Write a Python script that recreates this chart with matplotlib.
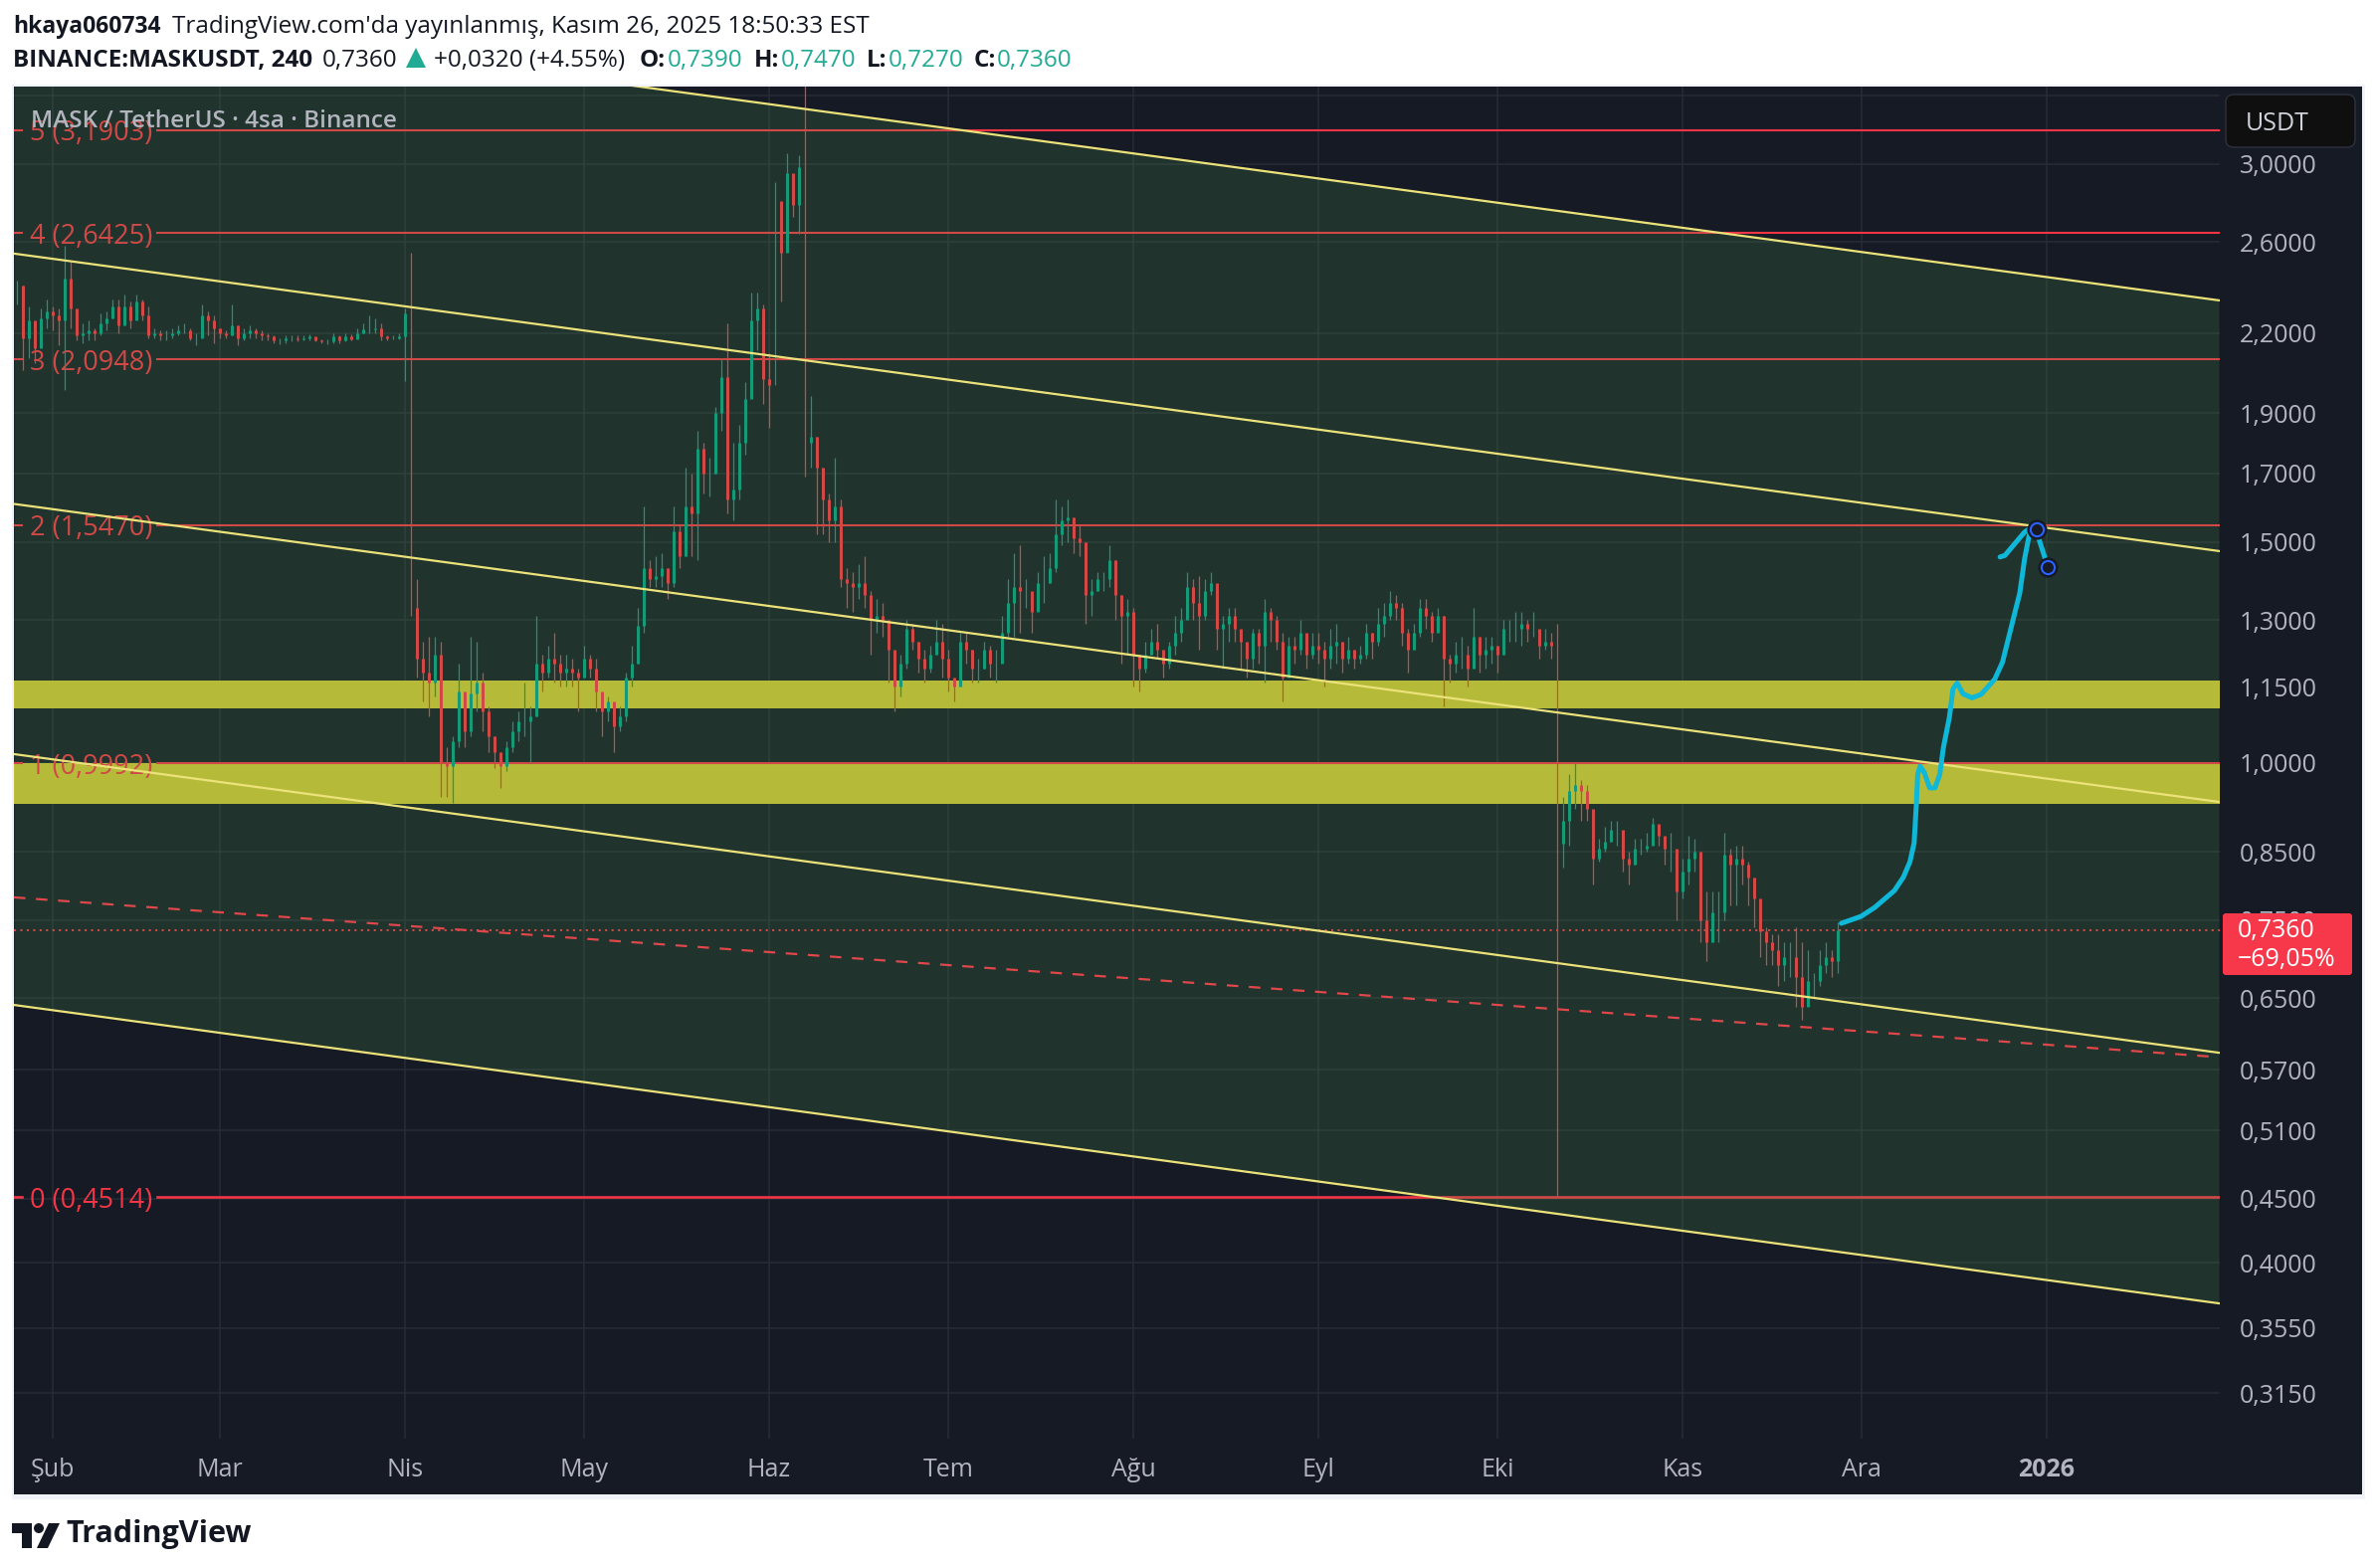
import matplotlib
matplotlib.use('Agg')
import matplotlib.pyplot as plt
from matplotlib.patches import FancyBboxPatch, Polygon, Rectangle, Circle
from matplotlib.ticker import NullLocator, NullFormatter
import numpy as np

plt.rcParams['font.family'] = ['Open Sans', 'DejaVu Sans']

# daily candles, first one is 26 Jan 2025, x is days since 1 Feb 2025
first_day = -6
closes = [
    2.40, 2.18, 2.25, 2.14, 2.26, 2.29,
    # Feb
    2.27, 2.25, 2.43, 2.30, 2.19, 2.20, 2.21, 2.20, 2.24, 2.26, 2.31, 2.23, 2.31, 2.25,
    2.33, 2.27, 2.19, 2.20, 2.19, 2.19, 2.20, 2.21, 2.21, 2.18, 2.18, 2.27, 2.25, 2.22,
    # Mar
    2.20, 2.19, 2.23, 2.18, 2.20, 2.21, 2.20, 2.19, 2.185, 2.17, 2.17, 2.18, 2.18, 2.175, 2.18, 2.185,
    2.17, 2.165, 2.165, 2.185, 2.17, 2.185, 2.175, 2.20, 2.215, 2.215, 2.22, 2.185, 2.18, 2.18, 2.185,
    # Apr
    2.28, 1.33, 1.21, 1.18, 1.16, 1.22, 1.00, 0.995, 1.04, 1.14, 1.06, 1.135, 1.16, 1.10, 1.05,
    1.02, 0.995, 1.03, 1.06, 1.08, 1.08, 1.09, 1.20, 1.18, 1.21, 1.20, 1.18, 1.19, 1.18, 1.17,
    # May
    1.21, 1.19, 1.14, 1.10, 1.12, 1.07, 1.09, 1.17, 1.20, 1.285, 1.43, 1.40, 1.41, 1.43, 1.39, 1.53,
    1.46, 1.60, 1.58, 1.78, 1.70, 1.70, 1.90, 2.03, 1.62, 1.65, 1.80, 1.95, 2.25, 2.30, 2.02,
    # Jun
    2.00, 2.80, 2.55, 2.95, 2.78, 2.98, 1.80, 1.82, 1.72, 1.62, 1.56, 1.60, 1.40, 1.39, 1.38,
    1.39, 1.36, 1.30, 1.31, 1.30, 1.23, 1.15, 1.20, 1.28, 1.25, 1.21, 1.19, 1.22, 1.25, 1.21,
    # Jul
    1.17, 1.15, 1.25, 1.23, 1.19, 1.19, 1.23, 1.20, 1.20, 1.27, 1.34, 1.38, 1.37, 1.37, 1.32, 1.39,
    1.39, 1.43, 1.52, 1.56, 1.57, 1.51, 1.50, 1.36, 1.37, 1.40, 1.40, 1.45, 1.36, 1.31, 1.32,
    # Aug
    1.22, 1.19, 1.22, 1.25, 1.23, 1.20, 1.24, 1.27, 1.30, 1.38, 1.34, 1.31, 1.37, 1.39, 1.28, 1.29,
    1.31, 1.28, 1.25, 1.21, 1.27, 1.24, 1.32, 1.30, 1.25, 1.17, 1.24, 1.23, 1.27, 1.22, 1.24,
    # Sep
    1.23, 1.21, 1.24, 1.25, 1.21, 1.23, 1.21, 1.22, 1.27, 1.25, 1.29, 1.31, 1.34, 1.33, 1.27,
    1.23, 1.27, 1.33, 1.31, 1.27, 1.31, 1.21, 1.20, 1.22, 1.22, 1.19, 1.26, 1.22, 1.23, 1.24,
    # Oct
    1.22, 1.28, 1.28, 1.28, 1.29, 1.28, 1.28, 1.24, 1.25, 1.24, 0.862, 0.90, 0.95, 0.96, 0.95, 0.92,
    0.84, 0.855, 0.865, 0.885, 0.885, 0.84, 0.83, 0.855, 0.855, 0.86, 0.895, 0.875, 0.855, 0.855, 0.79,
    # Nov
    0.82, 0.84, 0.85, 0.75, 0.72, 0.76, 0.76, 0.845, 0.83, 0.84, 0.83, 0.81, 0.78, 0.735,
    0.72, 0.71, 0.69, 0.70, 0.70, 0.675, 0.64, 0.67, 0.67, 0.69, 0.70, 0.695, 0.736,
]
highs = [
    2.42, 2.40, 2.31, 2.22, 2.30, 2.34,
    2.31, 2.30, 2.58, 2.51, 2.24, 2.24, 2.25, 2.22, 2.28, 2.29, 2.34, 2.34, 2.36, 2.33,
    2.36, 2.34, 2.31, 2.22, 2.21, 2.21, 2.22, 2.23, 2.24, 2.22, 2.20, 2.32, 2.29, 2.27,
    2.22, 2.21, 2.32, 2.23, 2.22, 2.23, 2.22, 2.21, 2.20, 2.19, 2.18, 2.19, 2.19, 2.19, 2.19, 2.195,
    2.18, 2.175, 2.175, 2.20, 2.19, 2.20, 2.195, 2.22, 2.24, 2.27, 2.26, 2.24, 2.19, 2.19, 2.20,
    2.30, 2.55, 1.40, 1.25, 1.26, 1.26, 1.25, 1.03, 1.05, 1.20, 1.13, 1.26, 1.25, 1.18, 1.11,
    1.05, 1.02, 1.04, 1.08, 1.10, 1.16, 1.11, 1.31, 1.22, 1.24, 1.27, 1.22, 1.22, 1.21, 1.19,
    1.24, 1.22, 1.21, 1.13, 1.13, 1.10, 1.11, 1.18, 1.24, 1.33, 1.60, 1.45, 1.46, 1.47, 1.43, 1.60,
    1.55, 1.72, 1.70, 1.84, 1.80, 1.75, 1.92, 2.10, 2.24, 1.80, 1.86, 2.01, 2.37, 2.37, 2.32,
    2.12, 2.90, 2.72, 3.06, 2.92, 3.05, 3.46, 1.96, 1.82, 1.72, 1.64, 1.75, 1.62, 1.43, 1.42,
    1.44, 1.46, 1.37, 1.35, 1.34, 1.29, 1.20, 1.22, 1.30, 1.29, 1.25, 1.23, 1.24, 1.30, 1.29,
    1.23, 1.17, 1.27, 1.27, 1.23, 1.21, 1.25, 1.24, 1.23, 1.31, 1.40, 1.47, 1.49, 1.40, 1.35, 1.42,
    1.46, 1.47, 1.62, 1.60, 1.62, 1.57, 1.55, 1.50, 1.40, 1.42, 1.42, 1.49, 1.45, 1.36, 1.35,
    1.33, 1.22, 1.25, 1.28, 1.29, 1.23, 1.25, 1.31, 1.33, 1.42, 1.40, 1.41, 1.40, 1.42, 1.38, 1.31,
    1.33, 1.33, 1.27, 1.24, 1.28, 1.28, 1.35, 1.33, 1.31, 1.27, 1.26, 1.26, 1.30, 1.26, 1.27,
    1.27, 1.25, 1.28, 1.29, 1.25, 1.26, 1.23, 1.24, 1.29, 1.27, 1.33, 1.34, 1.37, 1.36, 1.34,
    1.28, 1.29, 1.35, 1.35, 1.32, 1.33, 1.31, 1.22, 1.25, 1.26, 1.24, 1.33, 1.26, 1.26, 1.26,
    1.24, 1.30, 1.30, 1.32, 1.32, 1.30, 1.32, 1.27, 1.28, 1.27, 1.29, 0.94, 0.98, 1.00, 0.97, 0.96,
    0.91, 0.87, 0.89, 0.90, 0.90, 0.88, 0.85, 0.87, 0.87, 0.88, 0.905, 0.89, 0.87, 0.88, 0.85,
    0.84, 0.875, 0.87, 0.85, 0.79, 0.79, 0.79, 0.88, 0.855, 0.86, 0.86, 0.835, 0.81, 0.76,
    0.74, 0.73, 0.73, 0.72, 0.72, 0.74, 0.72, 0.71, 0.68, 0.71, 0.72, 0.71, 0.747,
]
lows = [
    2.32, 2.055, 2.10, 2.08, 2.16, 2.22,
    2.21, 2.15, 1.98, 2.22, 2.17, 2.16, 2.17, 2.17, 2.19, 2.21, 2.26, 2.20, 2.23, 2.22,
    2.26, 2.25, 2.18, 2.18, 2.17, 2.17, 2.18, 2.19, 2.20, 2.17, 2.15, 2.19, 2.19, 2.16,
    2.18, 2.18, 2.19, 2.15, 2.17, 2.18, 2.18, 2.17, 2.17, 2.16, 2.155, 2.16, 2.165, 2.165, 2.17, 2.17,
    2.165, 2.16, 2.155, 2.16, 2.16, 2.165, 2.17, 2.185, 2.20, 2.20, 2.20, 2.17, 2.17, 2.175, 2.175,
    2.015, 1.31, 1.17, 1.12, 1.09, 1.13, 0.94, 0.94, 0.93, 1.03, 1.03, 1.05, 1.10, 1.06, 1.02,
    0.99, 0.955, 0.985, 1.02, 1.04, 1.05, 1.00, 1.09, 1.14, 1.17, 1.16, 1.15, 1.15, 1.15, 1.10,
    1.17, 1.17, 1.10, 1.05, 1.08, 1.02, 1.06, 1.08, 1.15, 1.20, 1.27, 1.38, 1.38, 1.38, 1.35, 1.38,
    1.43, 1.46, 1.46, 1.45, 1.64, 1.63, 1.70, 1.84, 1.58, 1.56, 1.62, 1.76, 1.98, 2.13, 1.93,
    1.85, 2.00, 2.33, 2.62, 2.72, 2.64, 1.69, 1.72, 1.52, 1.52, 1.50, 1.50, 1.38, 1.33, 1.32,
    1.35, 1.33, 1.22, 1.27, 1.26, 1.16, 1.10, 1.13, 1.19, 1.23, 1.18, 1.16, 1.18, 1.22, 1.17,
    1.14, 1.12, 1.16, 1.20, 1.16, 1.16, 1.19, 1.17, 1.16, 1.21, 1.26, 1.26, 1.27, 1.33, 1.27, 1.34,
    1.34, 1.39, 1.42, 1.49, 1.50, 1.47, 1.46, 1.29, 1.31, 1.37, 1.37, 1.38, 1.30, 1.20, 1.22,
    1.15, 1.14, 1.18, 1.22, 1.21, 1.17, 1.19, 1.22, 1.25, 1.31, 1.30, 1.23, 1.30, 1.36, 1.23, 1.19,
    1.25, 1.25, 1.19, 1.17, 1.19, 1.20, 1.16, 1.25, 1.23, 1.12, 1.18, 1.20, 1.22, 1.19, 1.21,
    1.20, 1.15, 1.19, 1.20, 1.18, 1.20, 1.19, 1.20, 1.21, 1.21, 1.24, 1.26, 1.30, 1.30, 1.24,
    1.18, 1.23, 1.26, 1.28, 1.25, 1.28, 1.11, 1.16, 1.18, 1.19, 1.15, 1.20, 1.18, 1.19, 1.20,
    1.18, 1.22, 1.25, 1.25, 1.24, 1.25, 1.26, 1.21, 1.23, 1.21, 0.4514, 0.825, 0.86, 0.92, 0.90, 0.90,
    0.80, 0.835, 0.85, 0.865, 0.86, 0.82, 0.80, 0.83, 0.845, 0.85, 0.87, 0.86, 0.83, 0.82, 0.75,
    0.78, 0.80, 0.82, 0.72, 0.695, 0.72, 0.72, 0.75, 0.77, 0.77, 0.80, 0.77, 0.74, 0.70,
    0.69, 0.69, 0.665, 0.67, 0.675, 0.64, 0.625, 0.645, 0.65, 0.665, 0.68, 0.675, 0.68,
]

# fib levels and labels
fib_prices = [0.4514, 0.9992, 1.547, 2.0948, 2.6425, 3.1903]
fib_labels = ['0 (0,4514)', '1 (0,9992)', '2 (1,5470)', '3 (2,0948)', '4 (2,6425)', '5 (3,1903)']

# channel lines, price at the left and right edge of the pane
channel_left = [4.036, 2.5445, 1.608, 1.0165, 0.6418]
channel_right = [2.3355, 1.475, 0.9313, 0.588, 0.3714]
dashed_prices = [0.7817, 0.5832]
line_days = [-6.5, 362.83]

# yellow zones (low, high)
zone_lows = [1.1055, 0.928]
zone_highs = [1.1633, 0.9992]

last_price = 0.736

# hand drawn path
brush_days = [299.6, 302.9, 305.2, 308.5, 310.0, 311.1, 311.8, 312.2, 312.4, 312.8, 313.5, 314.4, 315.3, 316.1,
              316.7, 317.7, 318.3, 319.0, 320.0, 321.5, 323.0, 325.3, 326.6, 327.8, 329.5, 330.3, 331.1]
brush_prices = [0.7454, 0.7549, 0.7674, 0.7915, 0.8112, 0.8344, 0.8638, 0.9323, 0.9793, 0.9944, 0.9829, 0.9555,
                0.9555, 0.9793, 1.0285, 1.087, 1.145, 1.158, 1.135, 1.127, 1.134, 1.166, 1.203, 1.268, 1.366,
                1.454, 1.521]
hook_days = [326.2, 327.0, 328.3, 330.3, 331.4]
hook_prices = [1.459, 1.463, 1.488, 1.527, 1.539]
tail_days = [332.7, 333.7]
tail_prices = [1.508, 1.457]
handle_days = [332.3, 334.1]
handle_prices = [1.536, 1.433]

# axis ticks
month_days = [0, 28, 59, 89, 120, 150, 181, 212, 242, 273, 303, 334]
month_labels = ['Şub', 'Mar', 'Nis', 'May', 'Haz', 'Tem', 'Ağu', 'Eyl', 'Eki', 'Kas', 'Ara', '2026']
price_ticks = [3.4, 3.0, 2.6, 2.2, 1.9, 1.7, 1.5, 1.3, 1.15, 1.0, 0.85, 0.75, 0.65, 0.57, 0.51, 0.45, 0.40, 0.355, 0.315]
price_labels = ['' if p == 3.4 else f'{p:.4f}'.replace('.', ',') for p in price_ticks]

W, H = 2388, 1576
BG = '#161a25'
UP = '#089981'
DOWN = '#f23645'

fig = plt.figure(figsize=(W / 100, H / 100), dpi=100, facecolor='white')
fig.add_artist(Rectangle((12 / W, 1 - 1507 / H), 2365 / W, 1422 / H, transform=fig.transFigure,
                         facecolor='#f0f3fa', edgecolor='none', zorder=-2))
fig.add_artist(Rectangle((14 / W, 1 - 1502 / H), 2360 / W, 1415 / H, transform=fig.transFigure,
                         facecolor=BG, edgecolor='none', zorder=-1))

ax = fig.add_axes([14 / W, 1 - 1446 / H, (2231 - 14) / W, (1446 - 87) / H])
ax.set_facecolor(BG)
ax.set_yscale('log')
ax.set_xlim(-6.5, 363)
ax.set_ylim(0.2898, 3.456)
for s in ax.spines.values():
    s.set_visible(False)

ax.yaxis.tick_right()
ax.yaxis.set_minor_locator(NullLocator())
ax.yaxis.set_minor_formatter(NullFormatter())
ax.set_yticks(price_ticks)
ax.set_yticklabels(price_labels, fontsize=18, color='#b2b5be')
ax.set_xticks(month_days)
ax.set_xticklabels(month_labels, fontsize=18, color='#b2b5be')
ax.get_xticklabels()[-1].set_fontweight('bold')
ax.tick_params(axis='y', length=0, pad=14)
ax.tick_params(axis='x', length=0, pad=14)
ax.grid(True, color='#282c37', lw=1.1, zorder=0)
ax.set_axisbelow(True)

# zones
for lo, hi in zip(zone_lows, zone_highs):
    ax.axhspan(lo, hi, color='#d0c434', lw=0, zorder=1)

# fib lines with a gap for the label, these sit under the channel fill
for p, lab in zip(fib_prices, fib_labels):
    lw = 1.5 if p > 0.5 else 1.9
    ax.plot([-6.5, -5.2], [p, p], color=DOWN, lw=lw, zorder=1.5)
    ax.plot([17.5, 363], [p, p], color=DOWN, lw=lw, zorder=1.5)
    ax.text(6.4, p, lab, color=DOWN, fontsize=19.5, ha='center', va='center_baseline', zorder=1.6)
ax.axhline(last_price, color=DOWN, lw=1.5, ls=(0, (1, 2.1)), zorder=1.7)

# candles, the few huge ones are only a hairline in the reference
closes = np.array(closes)
highs = np.array(highs)
lows = np.array(lows)
opens = np.r_[closes[0], closes[:-1]]
days = first_day + np.arange(len(closes))
cols = np.where(closes >= opens, UP, DOWN)
ax.vlines(days, lows, highs, colors=cols, lw=0.9, zorder=2)
normal = np.maximum(opens, closes) / np.minimum(opens, closes) < 1.35
ax.vlines(days[normal], np.minimum(opens, closes)[normal], np.maximum(opens, closes)[normal],
          colors=cols[normal], lw=2.2, zorder=2.1)

# channel fill goes over everything above
ax.fill_between(line_days, [channel_left[0], channel_right[0]], [channel_left[-1], channel_right[-1]],
                color='#4c9950', alpha=0.2, lw=0, zorder=3)
for a, b in zip(channel_left, channel_right):
    ax.plot(line_days, [a, b], color='#ece27a', lw=1.6, zorder=4)
ax.plot(line_days, dashed_prices, color='#e0474a', lw=1.6, ls=(0, (5.2, 4.8)), zorder=4)

# brush
ax.plot(brush_days, brush_prices, color='#0fb8d8', lw=3.6, solid_capstyle='round', solid_joinstyle='round', zorder=5)
ax.plot(hook_days, hook_prices, color='#0fb8d8', lw=3.6, solid_capstyle='round', zorder=5)
ax.plot(tail_days, tail_prices, color='#0fb8d8', lw=3.6, solid_capstyle='round', zorder=5)
ax.plot(handle_days, handle_prices, ls='none', marker='o', ms=13.5, mfc=BG, mec=BG, zorder=6)
ax.plot(handle_days, handle_prices, ls='none', marker='o', ms=9.5, mfc=BG, mec='#2962ff', mew=1.5, zorder=7)

# overlay in pixel coordinates for header, tag, watermark, logo
ov = fig.add_axes([0, 0, 1, 1], zorder=5)
ov.set_xlim(0, W)
ov.set_ylim(H, 0)
ov.axis('off')
ov.patch.set_alpha(0)

TXT = '#131722'
GREEN = '#22ab94'
HEAD = 17.5
ov.text(13, 27, 'hkaya060734', fontsize=16.5, fontweight='bold', color=TXT, va='center')
ov.text(173, 27, "TradingView.com'da yayınlanmış, Kasım 26, 2025 18:50:33 EST", fontsize=HEAD, color=TXT, va='center')
ov.text(13, 61, 'BINANCE:MASKUSDT, 240', fontsize=HEAD, fontweight='bold', color=TXT, va='center')
ov.text(324, 61, '0,7360', fontsize=HEAD, color=TXT, va='center')
ov.add_patch(Polygon([(408, 68), (428, 68), (418, 48)], closed=True, facecolor=GREEN, edgecolor='none'))
ov.text(436, 61, '+0,0320 (+4.55%)', fontsize=HEAD, color=TXT, va='center')
for lx, lab, vx, val in [(643, 'O:', 671, '0,7390'), (758, 'H:', 785, '0,7470'),
                         (871, 'L:', 893, '0,7270'), (979, 'C:', 1002, '0,7360')]:
    ov.text(lx, 61, lab, fontsize=HEAD, fontweight='bold', color=TXT, va='center')
    ov.text(vx, 61, val, fontsize=HEAD, color=GREEN, va='center')

ov.text(31, 122, 'MASK / TetherUS · 4sa · Binance', fontsize=17.5, fontweight='semibold', color='#b2b5be', va='center')

ov.add_patch(FancyBboxPatch((2245, 103), 114, 37, boxstyle='round,pad=8,rounding_size=8', facecolor='#0f0f0f',
                            edgecolor='#2a2e39', lw=1.2))
ov.text(2257, 124, 'USDT', fontsize=18, color='#d1d4dc', va='center')

ov.add_patch(FancyBboxPatch((2236, 920), 126, 58, boxstyle='round,pad=2,rounding_size=3', facecolor='#f7374a',
                            edgecolor='none'))
ov.text(2249, 935, '0,7360', fontsize=18, color='white', va='center')
ov.text(2249, 964, '−69,05%', fontsize=18, color='white', va='center')

# logo
ov.add_patch(Polygon([(12, 1531), (32, 1531), (32, 1556), (22, 1556), (22, 1541), (12, 1541)], closed=True,
                     facecolor=TXT, edgecolor='none'))
ov.add_patch(Circle((39, 1536), 5, facecolor=TXT, edgecolor='none'))
ov.add_patch(Polygon([(49, 1531), (60, 1531), (48, 1556), (37, 1556)], closed=True, facecolor=TXT, edgecolor='none'))
ov.text(66, 1542, 'TradingView', fontsize=22, fontweight='bold', color=TXT, va='center')

fig.savefig('out.png', dpi=100)
plt.close(fig)
